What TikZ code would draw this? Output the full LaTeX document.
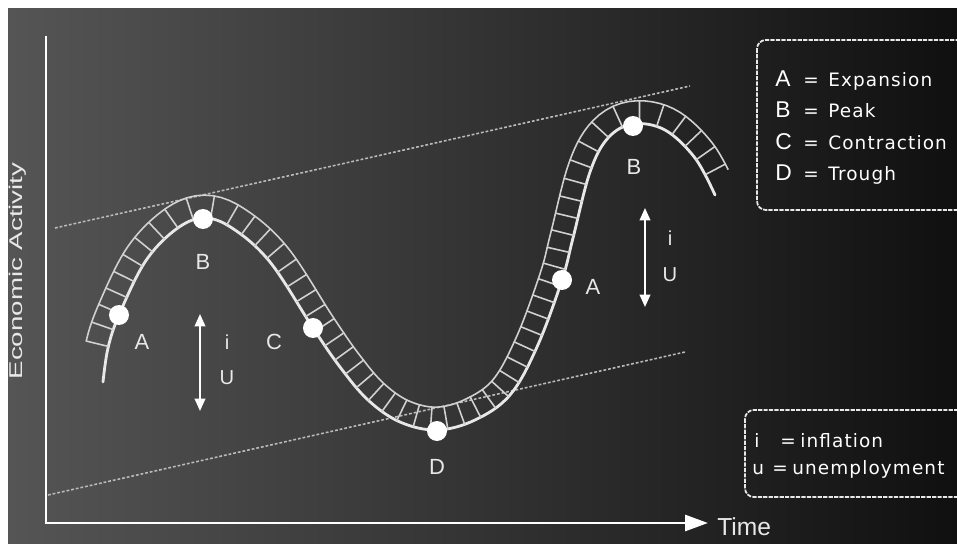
\documentclass[tikz,border=0pt]{standalone}
\usepackage{fontspec}
\setmainfont{Liberation Sans}
\newfontfamily\legfont[LetterSpace=6]{DejaVu Sans}
\usepackage{graphicx}
\usetikzlibrary{arrows.meta,positioning,decorations.markings}
\definecolor{boardL}{HTML}{555555}
\definecolor{boardM}{HTML}{383838}
\definecolor{boardR}{HTML}{101010}
\definecolor{chalk}{HTML}{E8E8E8}
\tikzset{
  axisline/.style={line width=1.7pt, white, -{Triangle[length=13pt,width=9pt]}},
  trendline/.style={chalk!80!black, line width=0.9pt, dash pattern=on 1.6pt off 1.1pt},
  chalkbox/.style={chalk, line width=1pt, dash pattern=on 2.4pt off 0.7pt, rounded corners=5pt},
  cyc/.style={chalk, line width=1.6pt, line cap=round},
  rail/.style={chalk!90!black, line width=0.9pt, line join=round},
  ladder/.style={
    postaction={decorate, decoration={markings,
      mark=between positions 0.72cm and -0.24cm step 0.35cm with {\draw[rail] (0pt,0pt) -- (0pt,13pt);}}},
    postaction={decorate, decoration={markings,
      mark=between positions 0.72cm and -0.24cm step 3pt with {%
        \coordinate (r\pgfkeysvalueof{/pgf/decoration/mark info/sequence number}) at (0pt,13pt);
        \xdef\railN{\pgfkeysvalueof{/pgf/decoration/mark info/sequence number}}}}}},
  dot/.style={circle, fill=white, minimum size=0.4cm, inner sep=0pt},
  lbl/.style={text=chalk, font=\fontsize{12.5}{14}\selectfont},
  iulbl/.style={text=chalk, font=\fontsize{11.5}{13}\selectfont},
  iuarrow/.style={{Triangle[length=7pt,width=6pt]}-{Triangle[length=7pt,width=6pt]}, white, line width=1.1pt},
  legletter/.style={anchor=base west, text=white, inner sep=0pt, font=\fontsize{13}{15}\selectfont},
  legword/.style={anchor=base west, text=white, inner sep=0pt, font=\legfont\fontsize{10.5}{12}\selectfont},
}

\begin{document}
\begin{tikzpicture}[x=0.02cm, y=-0.02cm]
\useasboundingbox (0,0) rectangle (957,544);
\fill[white] (0,0) rectangle (957,544);
\shade[left color=boardL, middle color=boardM, right color=boardR] (8,9) rectangle (957,544);

% trend band
\coordinate (upA) at (55,228);
\coordinate (upB) at (690,86);
\coordinate (loA) at (48,495);
\coordinate (loB) at (685,352);
\draw[trendline] (upA) -- (upB);
\draw[trendline] (loA) -- (loB);

% axes
\coordinate (ytop) at (46,36);
\coordinate (origin) at (46,523);
\coordinate (xend) at (708,523);
\draw[axisline] (ytop) -- (origin) -- (xend);
\node[anchor=west, text=chalk, font=\fontsize{14}{16}\selectfont, inner sep=0pt] (timelbl) at (717,527) {Time};
\node[rotate=90, text=chalk, font=\fontsize{10.5}{12}\selectfont] (ylbl) at (18,271) {\scalebox{1.5}[1]{Economic Activity}};

% business cycle
\draw[cyc, ladder] plot[smooth, tension=0.6] coordinates {(103,382) (108,348) (119,315) (145,262) (175,230) (203,218) (232,228) (270,262) (313,328) (340,367) (368,400) (400,422) (437,430) (475,420) (510,395) (537,347) (562,280) (573,238) (590,172) (608,138) (633,124) (665,130) (695,158) (715,195)};
\draw[rail] (r1) \foreach \k in {2,...,\railN} { -- (r\k) };

% phases
\node[dot] (ptA1) at (119,315) {};
\node[dot] (ptB1) at (203,219) {};
\node[dot] (ptC) at (313,328) {};
\node[dot] (ptD) at (437,431) {};
\node[dot] (ptA2) at (562,280) {};
\node[dot] (ptB2) at (633,126) {};
\node[lbl] (lA1) at (142,342) {A};
\node[lbl] (lB1) at (203,262) {B};
\node[lbl] (lC) at (274,342) {C};
\node[lbl] (lD) at (437,467) {D};
\node[lbl] (lA2) at (593,287) {A};
\node[lbl] (lB2) at (634,167) {B};

% inflation / unemployment
\coordinate (iuTop1) at (200,314);
\coordinate (iuBot1) at (200,411);
\coordinate (iuTop2) at (645,208);
\coordinate (iuBot2) at (645,307);
\draw[iuarrow] (iuTop1) -- (iuBot1);
\draw[iuarrow] (iuTop2) -- (iuBot2);
\node[iulbl] (i1) at (227,342) {i};
\node[iulbl] (u1) at (227,378) {U};
\node[iulbl] (i2) at (670,238) {i};
\node[iulbl] (u2) at (670,275) {U};

% legends
\draw[chalkbox] (757,40) rectangle (990,210);
\foreach \ltr/\word/\yy in {A/Expansion/87, B/Peak/118, C/Contraction/150, D/Trough/180} {
  \node[legletter] (key\ltr) at (775,\yy) {\ltr};
  \node[legword] (eq\ltr) at (803,\yy) {=};
  \node[legword] (txt\ltr) at (828,\yy) {\word};
}
\draw[chalkbox] (745,410) rectangle (990,497);
\node[legword] (keyi) at (754,447) {i};
\node[legword] (eqi) at (780,447) {=};
\node[legword] (txti) at (800,447) {inflation};
\node[legword] (keyu) at (752,474) {u};
\node[legword] (equ) at (772,474) {=};
\node[legword] (txtu) at (792,474) {unemployment};
\end{tikzpicture}
\end{document}
